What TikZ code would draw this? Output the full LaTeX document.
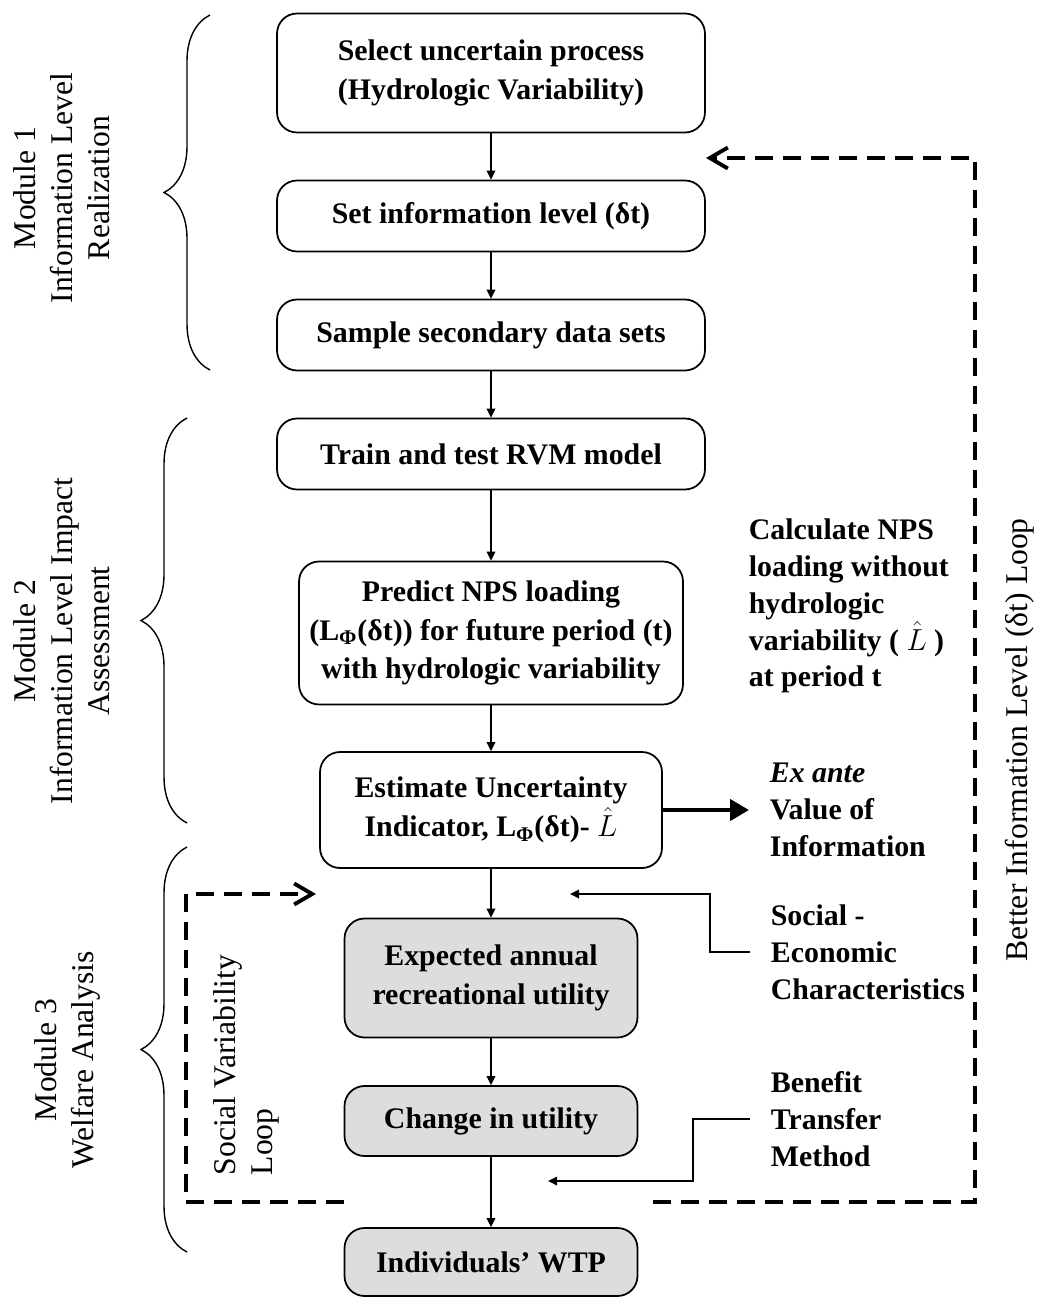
\documentclass[tikz,border=0pt]{standalone}
\usepackage{fontspec}
\setmainfont{Liberation Serif}
\usetikzlibrary{arrows.meta,positioning,calc,decorations.pathreplacing}
\definecolor{boxgray}{HTML}{DDDDDD}

\begin{document}
\begin{tikzpicture}[x=0.02cm, y=-0.02cm, >={Triangle[length=0.18cm,width=0.17cm]}, line width=1pt,
  stepbox/.style={draw, rounded corners=0.4cm, align=center, inner sep=0pt, font=\fontsize{17}{22}\selectfont\bfseries},
  graybox/.style={stepbox, fill=boxgray},
  sidenote/.style={anchor=west, align=left, inner xsep=0.4cm, inner ysep=0pt, font=\fontsize{17}{21}\selectfont\bfseries},
  modlabel/.style={rotate=90, align=center, font=\fontsize{18}{21}\selectfont},
  modbrace/.style={decorate, decoration={brace, amplitude=0.92cm}, line width=0.8pt},
  loopline/.style={line width=2.2pt, dash pattern=on 0.36cm off 0.2cm, -{Straight Barb[length=0.36cm,width=0.42cm]}}]
  \useasboundingbox (0,0) rectangle (1038,1298);

  \node[stepbox, minimum width=8.56cm, minimum height=2.38cm] (select) at (491,73) {Select uncertain process\\(Hydrologic Variability)};
  \node[stepbox, minimum width=8.56cm, minimum height=1.42cm] (setlevel) at (491,216) {Set information level (δt)};
  \node[stepbox, minimum width=8.56cm, minimum height=1.42cm] (sample) at (491,335) {Sample secondary data sets};
  \node[stepbox, minimum width=8.56cm, minimum height=1.42cm] (train) at (491,454) {Train and test RVM model};
  \node[stepbox, minimum width=7.68cm, minimum height=2.86cm] (predict) at (491,633) {Predict NPS loading\\(L\textsubscript{Φ}(δt)) for future period (t)\\with hydrologic variability};
  \node[stepbox, minimum width=6.84cm, minimum height=2.32cm] (estimate) at (491,810) {Estimate Uncertainty\\Indicator, L\textsubscript{Φ}(δt)- $\hat{L}$};
  \node[graybox, minimum width=5.86cm, minimum height=2.38cm] (expected) at (491,978) {Expected annual\\recreational utility};
  \node[graybox, minimum width=5.86cm, minimum height=1.4cm] (change) at (491,1121) {Change in utility};
  \node[graybox, minimum width=5.86cm, minimum height=1.36cm] (wtp) at (491,1262) {Individuals’ WTP};

  \node[sidenote] (calcnps) at (728,606) {Calculate NPS\\loading without\\hydrologic\\variability ( $\hat{L}$ )\\at period t};
  \node[sidenote] (exante) at (749,810) {\textit{Ex ante}\\Value of\\Information};
  \node[sidenote] (socioecon) at (750,952) {Social -\\Economic\\Characteristics};
  \node[sidenote] (benefit) at (750,1119) {Benefit\\Transfer\\Method};

  \node[modlabel] (modone) at (62,188) {Module 1\\Information Level\\Realization};
  \node[modlabel] (modtwo) at (62,641) {Module 2\\Information Level Impact\\Assessment};
  \node[modlabel] (modthree) at (67,1060) {Module 3\\Welfare Analysis};
  \node[modlabel, anchor=west, align=left] (socialloop) at (246,1182) {Social Variability\\Loop};
  \node[modlabel] (betterloop) at (1020,740) {Better Information Level (δt) Loop};

  \draw[modbrace] (210,370) -- (210,15);
  \draw[modbrace] (187,823) -- (187,418);
  \draw[modbrace] (187,1252) -- (187,847);

  \draw[->] (select) -- (setlevel);
  \draw[->] (setlevel) -- (sample);
  \draw[->] (sample) -- (train);
  \draw[->] (train) -- (predict);
  \draw[->] (predict) -- (estimate);
  \draw[->] (estimate) -- (expected);
  \draw[->] (expected) -- (change);
  \draw[->] (change) -- (wtp);
  \draw[line width=0.09cm, -{Triangle[length=0.38cm,width=0.42cm]}] (estimate) -- (exante);

  \coordinate (sociotip) at (570,894);
  \coordinate (benefittip) at (548,1181);
  \draw[->] (socioecon.west) -- ++(-40,0) |- (sociotip);
  \draw[->] (benefit.west) -- ++(-57,0) |- (benefittip);

  \coordinate (betterfrom) at (653,1202);
  \coordinate (betterto) at (706,158);
  \coordinate (socialfrom) at (344,1202);
  \coordinate (socialto) at (316,894);
  \draw[loopline] (betterfrom) -- ++(322,0) |- (betterto);
  \draw[loopline] (socialfrom) -- ++(-158,0) |- (socialto);
\end{tikzpicture}
\end{document}
